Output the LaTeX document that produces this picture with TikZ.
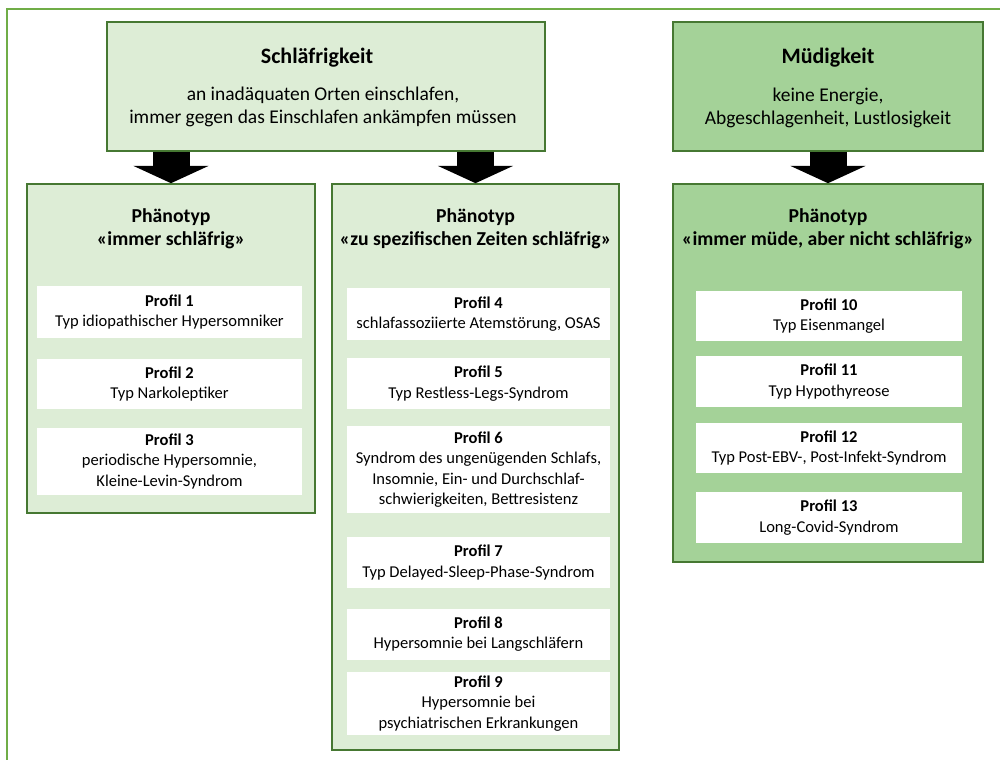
\documentclass[tikz,border=0pt]{standalone}
\usepackage{fontspec}
\setmainfont{Carlito}
\usetikzlibrary{arrows.meta, positioning}
\definecolor{framegreen}{RGB}{112,173,71}
\definecolor{edgegreen}{RGB}{70,120,50}
\definecolor{palegreen}{RGB}{221,237,214}
\definecolor{midgreen}{RGB}{164,210,152}

\begin{document}
\begin{tikzpicture}[x=0.75pt, y=-0.75pt,
  every node/.style={font=\fontsize{12.4}{15.2}\selectfont, align=center, inner sep=0pt},
  groupbox/.style={draw=edgegreen, line width=1.2pt, fill=palegreen, minimum width=#1},
  profilbox/.style={fill=white, minimum height=#1},
  headtxt/.style={font=\fontsize{16.5}{18}\selectfont\bfseries},
  subtxt/.style={font=\fontsize{14.6}{17}\selectfont},
  phenotxt/.style={font=\fontsize{14.8}{17.3}\selectfont\bfseries},
  bigarrow/.style={line width=27.75pt, -{Triangle[width=56pt, length=13pt]}}]
\useasboundingbox (0,0) rectangle (1000,760);

% Frame
\draw[framegreen, line width=1.5pt] (7,760) -- (7,9) -- (1000,9);

% Top boxes
\node[groupbox=328.5pt, minimum height=96.75pt] (sleepy) at (326,86.5) {};
\node[headtxt] (sleepyT) at (317,58) {Schläfrigkeit};
\node[subtxt] at (323,107) {an inadäquaten Orten einschlafen,\\immer gegen das Einschlafen ankämpfen müssen};

\node[groupbox=232.5pt, minimum height=96.75pt, fill=midgreen] (tired) at (828,86.5) {};
\node[headtxt] (tiredT) at (828,58) {Müdigkeit};
\node[subtxt] at (828,108) {keine Energie,\\Abgeschlagenheit, Lustlosigkeit};

% Phenotype columns
\node[groupbox=216pt, minimum height=246.75pt] (colA) at (171,348.5) {};
\node[phenotxt] at (171,228.5) {Phänotyp\\«immer schläfrig»};

\node[groupbox=215.25pt, minimum height=424.5pt] (colB) at (475.5,467) {};
\node[phenotxt] at (475.5,228.5) {Phänotyp\\«zu spezifischen Zeiten schläfrig»};

\node[groupbox=232.5pt, minimum height=283.5pt, fill=midgreen] (colC) at (828,373) {};
\node[phenotxt] at (828,228.5) {Phänotyp\\«immer müde, aber nicht schläfrig»};

% Arrows
\draw[bigarrow] (sleepy.south -| colA.north) -- (colA.north);
\draw[bigarrow] (sleepy.south -| colB.north) -- (colB.north);
\draw[bigarrow] (tired.south) -- (colC.north);

% Profiles, column A
\begin{scope}[every node/.append style={minimum width=198.75pt}]
\node[profilbox=39pt] (p1) at (169.5,312) {\textbf{Profil 1}\\Typ idiopathischer Hypersomniker};
\node[profilbox=37.5pt] (p2) at (169.5,384) {\textbf{Profil 2}\\Typ Narkoleptiker};
\node[profilbox=50.25pt] (p3) at (169.5,461.5) {\textbf{Profil 3}\\periodische Hypersomnie,\\Kleine-Levin-Syndrom};
\end{scope}

% Profiles, column B
\begin{scope}[every node/.append style={minimum width=197.25pt}]
\node[profilbox=39pt] (p4) at (478.5,314) {\textbf{Profil 4}\\schlafassoziierte Atemstörung, OSAS};
\node[profilbox=38.25pt] (p5) at (478.5,383.5) {\textbf{Profil 5}\\Typ Restless-Legs-Syndrom};
\node[profilbox=65.25pt] (p6) at (478.5,469.5) {\textbf{Profil 6}\\Syndrom des ungenügenden Schlafs,\\Insomnie, Ein- und Durchschlaf-\\schwierigkeiten, Bettresistenz};
\node[profilbox=38.25pt] (p7) at (478.5,562.5) {\textbf{Profil 7}\\Typ Delayed-Sleep-Phase-Syndrom};
\node[profilbox=38.25pt] (p8) at (478.5,634) {\textbf{Profil 8}\\Hypersomnie bei Langschläfern};
\node[profilbox=47.25pt] (p9) at (478.5,703.5) {\textbf{Profil 9}\\Hypersomnie bei\\psychiatrischen Erkrankungen};
\end{scope}

% Profiles, column C
\begin{scope}[every node/.append style={minimum width=199.5pt}]
\node[profilbox=37.5pt] (p10) at (829,316) {\textbf{Profil 10}\\Typ Eisenmangel};
\node[profilbox=38.25pt] (p11) at (829,381.5) {\textbf{Profil 11}\\Typ Hypothyreose};
\node[profilbox=37.5pt] (p12) at (829,448) {\textbf{Profil 12}\\Typ Post-EBV-, Post-Infekt-Syndrom};
\node[profilbox=38.25pt] (p13) at (829,517.5) {\textbf{Profil 13}\\Long-Covid-Syndrom};
\end{scope}
\end{tikzpicture}
\end{document}
